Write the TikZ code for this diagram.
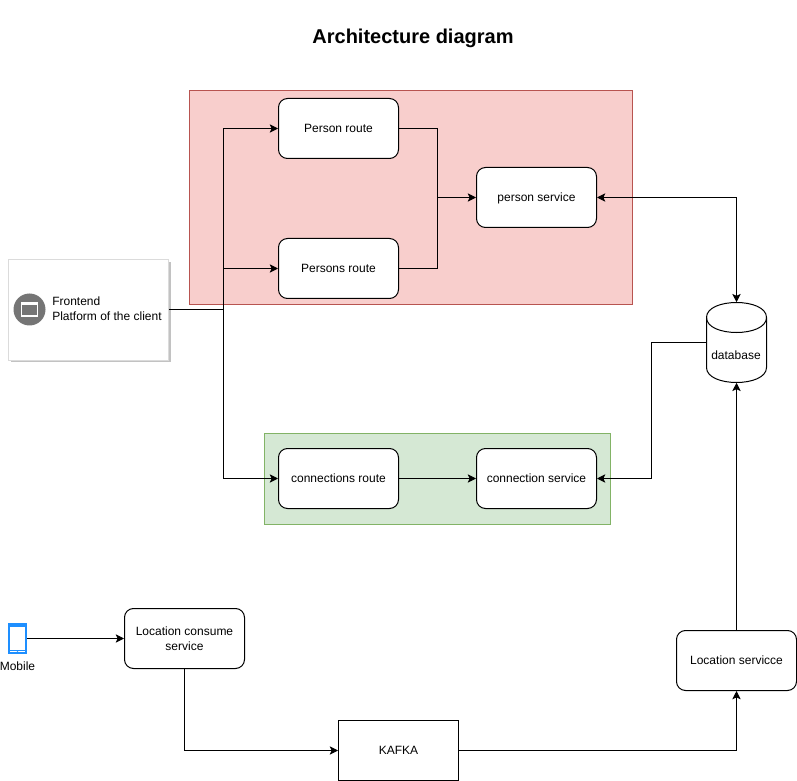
\documentclass[tikz,border=0pt]{standalone}
\usepackage{fontspec}
\setmainfont{Liberation Sans}
\usetikzlibrary{arrows.meta}
\definecolor{redfill}{HTML}{F8CECC}\definecolor{redline}{HTML}{B85450}
\definecolor{greenfill}{HTML}{D5E8D4}\definecolor{greenline}{HTML}{82B366}
\definecolor{mobblue}{HTML}{1E8FFF}\definecolor{icongray}{HTML}{757575}
\tikzset{
  px/.style={x=0.75pt,y=-0.75pt},
  svc/.style={draw=black,fill=white,rounded corners=6.75pt,line width=0.75pt,minimum width=90pt,minimum height=45pt,inner sep=1pt,align=center,font=\fontsize{9}{11.25}\selectfont},
  one/.style={svc,text height=7.6pt,text depth=1.4pt},
  plain/.style={one,rounded corners=0pt},
  lbl/.style={inner sep=0pt,align=left,font=\fontsize{9}{11.25}\selectfont},
  link/.style={draw=black,line width=0.75pt,-{Stealth[length=6.2pt,width=6.2pt,inset=1.4pt]}},
  both/.style={draw=black,line width=0.75pt,{Stealth[length=6.2pt,width=6.2pt,inset=1.4pt]}-{Stealth[length=6.2pt,width=6.2pt,inset=1.4pt]}},
  line/.style={draw=black,line width=0.75pt},
  zone/.style={line width=0.75pt,inner sep=0pt,minimum width=#1},
}
\begin{document}
\begin{tikzpicture}[px]
\useasboundingbox (0,0) rectangle (797,781);
\node[inner sep=0pt,font=\bfseries\fontsize{15}{18}\selectfont] (title) at (413,38.5) {Architecture diagram};
% zones
\node[draw=redline,fill=redfill,zone=332.25pt,minimum height=160.5pt] (redzone) at (411,197.5) {};
\node[draw=greenline,fill=greenfill,zone=259.5pt,minimum height=68.25pt] (greenzone) at (437.5,478.5) {};
% frontend
\fill[black!24] (10.5,262) rectangle (170.5,362);
\node[draw=black!14,fill=white,line width=0.75pt,minimum width=120pt,minimum height=75pt,inner sep=0pt] (fe) at (88.5,310) {};
\node[circle,fill=icongray,minimum size=24pt,inner sep=0pt] (feicon) at (29.5,309.5) {};
\node[draw=white,fill=icongray,line width=1.1pt,minimum width=12pt,minimum height=10pt,inner sep=0pt] (feicon2) at (29.5,309.5) {};
\fill[white] (21,303) rectangle (38,305.5);
\node[lbl,anchor=west] (felabel) at (52,308.5) {Frontend\\Platform of the client};
% service boxes
\node[one] (pr) at (338.5,128.5) {Person route};
\node[one] (prs) at (338.5,268.5) {Persons route};
\node[one] (ps) at (536.5,197.5) {person service};
\node[one] (cr) at (338.5,478.5) {connections route};
\node[one] (cs) at (536.5,478.5) {connection service};
\node[svc] (lc) at (184.5,638.5) {Location consume\\service};
\node[plain] (kafka) at (398.5,750.5) {KAFKA};
\node[one] (ls) at (736.5,660.5) {Location servicce};
% database
\node[minimum width=45pt,minimum height=60pt,inner sep=0pt] (db) at (736.5,342.5) {};
\filldraw[fill=white,line width=0.75pt] (706.5,317.5) .. controls (706.5,297.5) and (766.5,297.5) .. (766.5,317.5) -- (766.5,367.5) .. controls (766.5,387.5) and (706.5,387.5) .. (706.5,367.5) -- cycle;
\draw[line width=0.75pt] (706.5,317.5) .. controls (706.5,337.5) and (766.5,337.5) .. (766.5,317.5);
\node[inner sep=0pt,font=\fontsize{9}{11}\selectfont] (dblabel) at (736,355) {database};
% mobile
\node[draw=mobblue,fill=white,line width=1.6pt,minimum width=12.5pt,minimum height=22pt,inner sep=0pt] (mob) at (17.5,638.5) {};
\draw[mobblue,line width=1pt] (8,626) -- (27,626) (8,650.5) -- (27,650.5);
\fill[mobblue] (17.5,652) circle (0.7pt);
\node[inner sep=0pt,font=\fontsize{9}{11}\selectfont] (moblabel) at (17.5,666.5) {Mobile};
% routing points
\coordinate (bus) at (223.5,309.5);
\coordinate (join) at (437.5,197.5);
\coordinate (dbside) at (651.5,342.5);
% connectors
\draw[line] (fe.east |- bus) -- (bus);
\draw[link] (bus) |- (pr.west);
\draw[link] (bus) |- (prs.west);
\draw[link] (bus) |- (cr.west);
\draw[line] (pr.east) -| (join);
\draw[line] (prs.east) -| (join);
\draw[link] (join) -- (ps.west);
\draw[both] (ps.east) -| (db.north);
\draw[link] (cr.east) -- (cs.west);
\draw[link] (db.west) -- (dbside) |- (cs.east);
\draw[link] (mob.east) -- (lc.west);
\draw[link] (lc.south) |- (kafka.west);
\draw[link] (kafka.east) -| (ls.south);
\draw[link] (ls.north) -- (db.south);
\end{tikzpicture}
\end{document}
